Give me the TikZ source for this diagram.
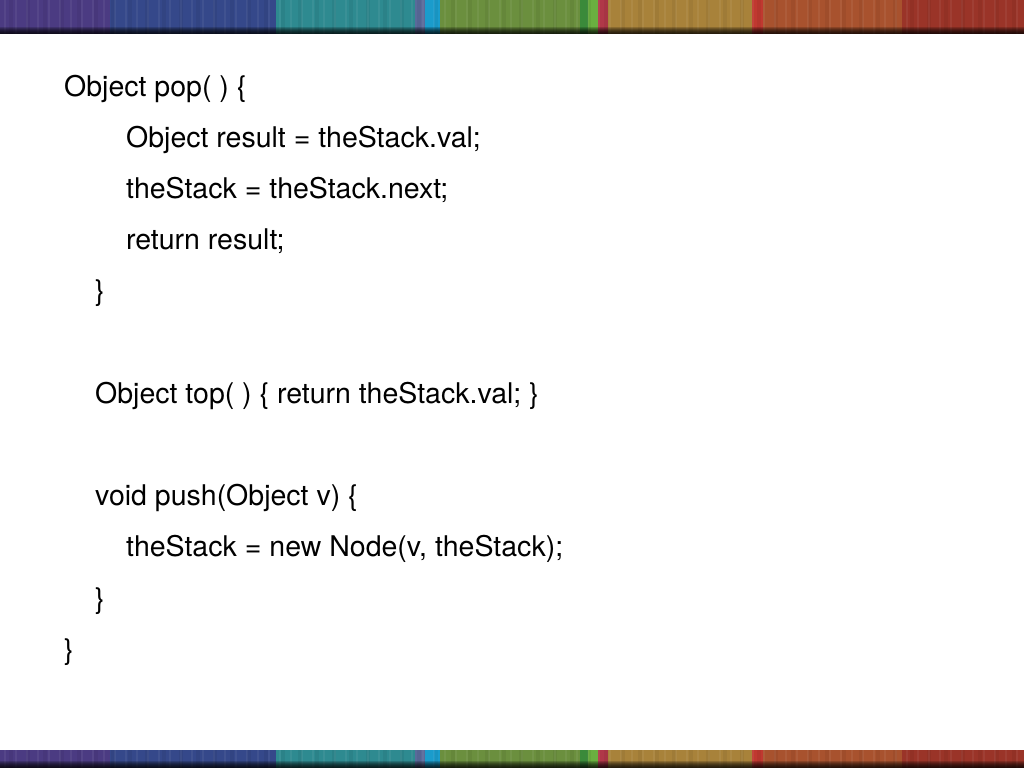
\documentclass[tikz,border=0pt]{standalone}
\usepackage{fontspec}
\setmainfont{TeX Gyre Heros}

\definecolor{barpurple}{HTML}{4B3B82}
\definecolor{barblue}{HTML}{35488A}
\definecolor{barteal}{HTML}{2E8A90}
\definecolor{bargrey}{HTML}{5A6A9A}
\definecolor{barcyan}{HTML}{1A9CCC}
\definecolor{bargreen}{HTML}{6B8F3E}
\definecolor{bardkgreen}{HTML}{3A8A3A}
\definecolor{barltgreen}{HTML}{6AB040}
\definecolor{barrose}{HTML}{B03848}
\definecolor{bargold}{HTML}{A8823A}
\definecolor{barscarlet}{HTML}{C03830}
\definecolor{barorange}{HTML}{A8522E}
\definecolor{barred}{HTML}{9A3428}

\tikzset{codeline/.style={anchor=base west, inner sep=0pt, font=\fontsize{28.5}{34}\selectfont}}

\begin{document}
\begin{tikzpicture}[x=1pt,y=-1pt]

                  \useasboundingbox (0,0) rectangle (1024,768);

                  % colour bands, top and bottom
                  \foreach \xa/\xb/\col in {0/110/barpurple, 110/276/barblue, 276/415/barteal, 415/425/bargrey,
                                            425/440/barcyan, 440/580/bargreen, 580/588/bardkgreen, 588/598/barltgreen,
                                            598/608/barrose, 608/752/bargold, 752/763/barscarlet, 763/902/barorange,
                                            902/1024/barred}{
                      \fill[\col] (\xa,0) rectangle (\xb,34);
                      \fill[\col] (\xa,749.5) rectangle (\xb,768);
                  }

                  % streaks
                  \foreach \x in {4,15,...,1020}{
                      \fill[white,opacity=0.06] (\x,0) rectangle ++(2,34);
                      \fill[white,opacity=0.06] (\x,749.5) rectangle ++(2,18.5);
                  }
                  \foreach \x in {9,26,...,1020}{
                      \fill[black,opacity=0.05] (\x,0) rectangle ++(4,34);
                      \fill[black,opacity=0.05] (\x,749.5) rectangle ++(4,18.5);
                  }

                  % dark lower edges
                  \foreach \k in {0,...,6}{
                      \fill[black,opacity=0.18] (0,27+\k) rectangle (1024,34);
                      \fill[black,opacity=0.18] (0,761+\k) rectangle (1024,768);
                  }

                  \node[codeline] (pop) at (64,96) {Object pop( ) \{};
                  \node[codeline] (popres) at (126,147.2) {Object result = theStack.val;};
                  \node[codeline] (popnext) at (126,198.4) {theStack = theStack.next;};
                  \node[codeline] (popret) at (126,249.6) {return result;};
                  \node[codeline] (popend) at (95,300.8) {\}};

                  \node[codeline] (top) at (95,403.2) {Object top( ) \{ return theStack.val; \}};

                  \node[codeline] (push) at (95,505.6) {void push(Object v) \{};
                  \node[codeline] (pushnew) at (126,556.8) {theStack = new Node(v, theStack);};
                  \node[codeline] (pushend) at (95,608) {\}};
                  \node[codeline] (classend) at (64,659.2) {\}};

              \end{tikzpicture}
\end{document}
